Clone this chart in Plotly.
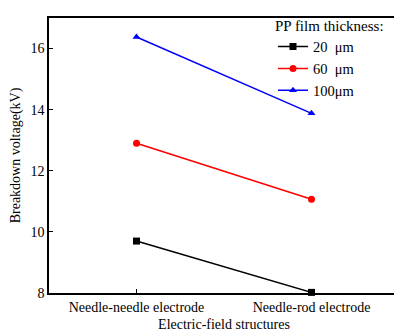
import plotly.graph_objects as go

categories = ["Needle-needle electrode", "Needle-rod electrode"]
v20 = [9.70, 8.02]
v60 = [12.90, 11.07]
v100 = [16.38, 13.88]
names = ["20  μm", "60  μm", "100μm"]
colors = ["black", "red", "blue"]
symbols = ["square", "circle", "triangle-up"]

fig = go.Figure()
xs = [0, 1]
for vals, name, c, s in zip([v20, v60, v100], names, colors, symbols):
    fig.add_trace(go.Scatter(x=xs, y=vals, mode="lines+markers", name=name,
                             line=dict(color=c, width=1.5),
                             marker=dict(symbol=s, size=7, color=c),
                             cliponaxis=False))

font = dict(family="Liberation Serif", size=14, color="black")
tfont = dict(family="Liberation Serif", size=15, color="black")
lfont = dict(family="Liberation Serif", size=14.5, color="black")
fig.update_layout(
    width=394, height=324,
    margin=dict(l=41, r=3, t=4, b=39),
    paper_bgcolor="white", plot_bgcolor="white",
    font=font,
    showlegend=True,
    legend=dict(title=dict(text="PP film thickness:", font=tfont), font=lfont,
                x=0.64, y=1.025, xanchor="left", yanchor="top",
                bgcolor="rgba(0,0,0,0)", tracegroupgap=0, itemwidth=30),
    xaxis=dict(range=[-0.5, 1.5], tickmode="array", tickvals=xs, ticktext=categories,
               ticks="inside", ticklen=4, tickcolor="black", showline=True, linecolor="black",
               linewidth=1.5, mirror=True, showgrid=False, zeroline=False, automargin=False,
               tickfont=font,
               title=dict(text="Electric-field structures", font=font, standoff=17)),
    yaxis=dict(range=[8, 17], tickvals=[8, 10, 12, 14, 16],
               ticks="inside", ticklen=4, tickcolor="black", showline=True, linecolor="black",
               linewidth=1.5, mirror=True, showgrid=False, zeroline=False, automargin=False,
               tickfont=font,
               title=dict(text="Breakdown voltage(kV)", font=font, standoff=10)),
)
fig.write_html("out.html")
